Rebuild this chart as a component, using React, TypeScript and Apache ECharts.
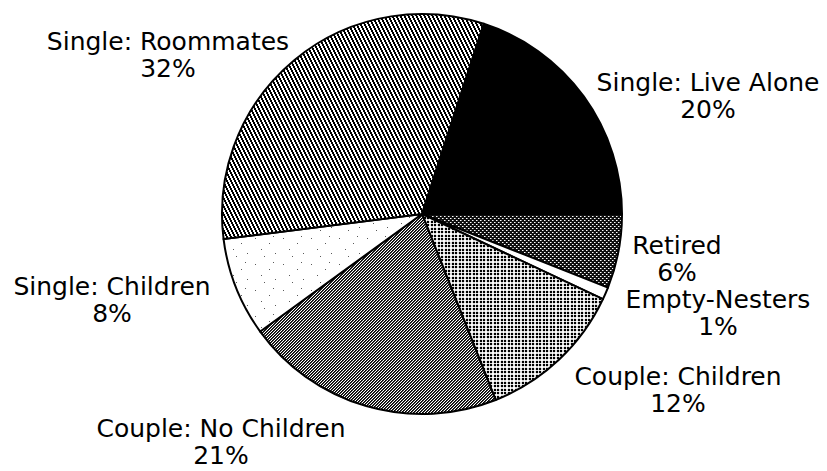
import React, { useEffect, useRef } from "react";
import * as echarts from "echarts";

// ---- data (clockwise from 3 o'clock) ----
const categories = [
  "Retired",
  "Empty-Nesters",
  "Couple: Children",
  "Couple: No Children",
  "Single: Children",
  "Single: Roommates",
  "Single: Live Alone",
];
const shares = [6, 1, 12, 21, 8, 32, 20];

// ---- layout ----
const WIDTH = 827;
const HEIGHT = 471;
const PIE_CENTER: [number, number] = [422, 214];
const PIE_RADIUS = 200;
// label block centres, relative to the pie centre
const LABEL_OFFSETS: [number, number][] = [
  [255, 45],
  [296, 99],
  [256, 176],
  [-201, 228],
  [-310, 86],
  [-254, -159],
  [286, -118],
];

type Shade = (x: number, y: number) => number;

function makeTile(w: number, h: number, shade: Shade) {
  const c = document.createElement("canvas");
  c.width = w;
  c.height = h;
  const ctx = c.getContext("2d")!;
  const img = ctx.createImageData(w, h);
  for (let y = 0; y < h; y++) {
    for (let x = 0; x < w; x++) {
      const v = shade(x, y);
      const i = (y * w + x) * 4;
      img.data[i] = v;
      img.data[i + 1] = v;
      img.data[i + 2] = v;
      img.data[i + 3] = 255;
    }
  }
  ctx.putImageData(img, 0, 0);
  return {
    image: c.toDataURL(),
    repeat: "repeat",
    imageWidth: w,
    imageHeight: h,
  } as any;
}

function buildFills() {
  // Retired: dark with white dots on a diagonal grid
  const retired = makeTile(4, 4, (x, y) => {
    if ((x === 0 && y === 0) || (x === 2 && y === 2)) return 255;
    if ((x === 1 && y === 0) || (x === 3 && y === 2)) return 140;
    return 15;
  });
  // Couple: Children: black dots on white
  const coupleChildren = makeTile(7, 7, (x, y) => {
    const inX = x === 0 || x === 1 || x === 4 || x === 5;
    const inY = y === 0 || y === 1 || y === 4 || y === 5;
    return inX && inY ? 0 : inX || inY ? 215 : 255;
  });
  // Couple: No Children: dense "/" hatch
  const coupleNoChildren = makeTile(3, 3, (x, y) => {
    const m = (x + y) % 3;
    return m === 0 ? 0 : m === 1 ? 60 : 255;
  });
  // Single: Children: white with sparse specks
  const specks = new Set(["3,4", "17,9", "9,15", "23,19", "21,2", "12,22"]);
  const singleChildren = makeTile(28, 26, (x, y) =>
    specks.has(`${x},${y}`) ? 90 : 255
  );
  // Single: Roommates: steep "\" hatch
  const roommates = makeTile(4, 8, (x, y) => {
    const m = (((x - Math.floor(y / 2)) % 4) + 4) % 4;
    return m < 2 ? 0 : 255;
  });
  return [
    retired,
    "#ffffff",
    coupleChildren,
    coupleNoChildren,
    singleChildren,
    roommates,
    "#000000",
  ];
}

export default function App() {
  const ref = useRef<HTMLDivElement>(null);

  useEffect(() => {
    if (!ref.current) return;
    const chart = echarts.init(ref.current, null, { renderer: "svg" });
    const fills = buildFills();
    const data = categories.map((name, i) => ({
      name,
      value: shares[i],
      itemStyle: { color: fills[i] },
    }));

    chart.setOption({
      animation: false,
      backgroundColor: "#ffffff",
      series: [
        {
          type: "pie",
          center: PIE_CENTER,
          radius: PIE_RADIUS,
          startAngle: 0,
          clockwise: true,
          avoidLabelOverlap: false,
          emphasis: { disabled: true },
          itemStyle: { borderColor: "#000", borderWidth: 2 },
          label: {
            show: true,
            position: "outside",
            formatter: "{b}\n{d}%",
            fontFamily: "DejaVu Sans",
            fontSize: 25,
            lineHeight: 27,
            color: "#000",
          },
          labelLine: { show: false },
          labelLayout: (params: any) => {
            const off = LABEL_OFFSETS[params.dataIndex];
            return {
              x: PIE_CENTER[0] + off[0],
              y: PIE_CENTER[1] + off[1],
              align: "center",
              verticalAlign: "middle",
            };
          },
          data,
        },
      ],
    });

    return () => chart.dispose();
  }, []);

  return (
    <div
      ref={ref}
      style={{
        position: "absolute",
        left: 0,
        top: 0,
        width: WIDTH,
        height: HEIGHT,
        background: "#fff",
      }}
    />
  );
}
